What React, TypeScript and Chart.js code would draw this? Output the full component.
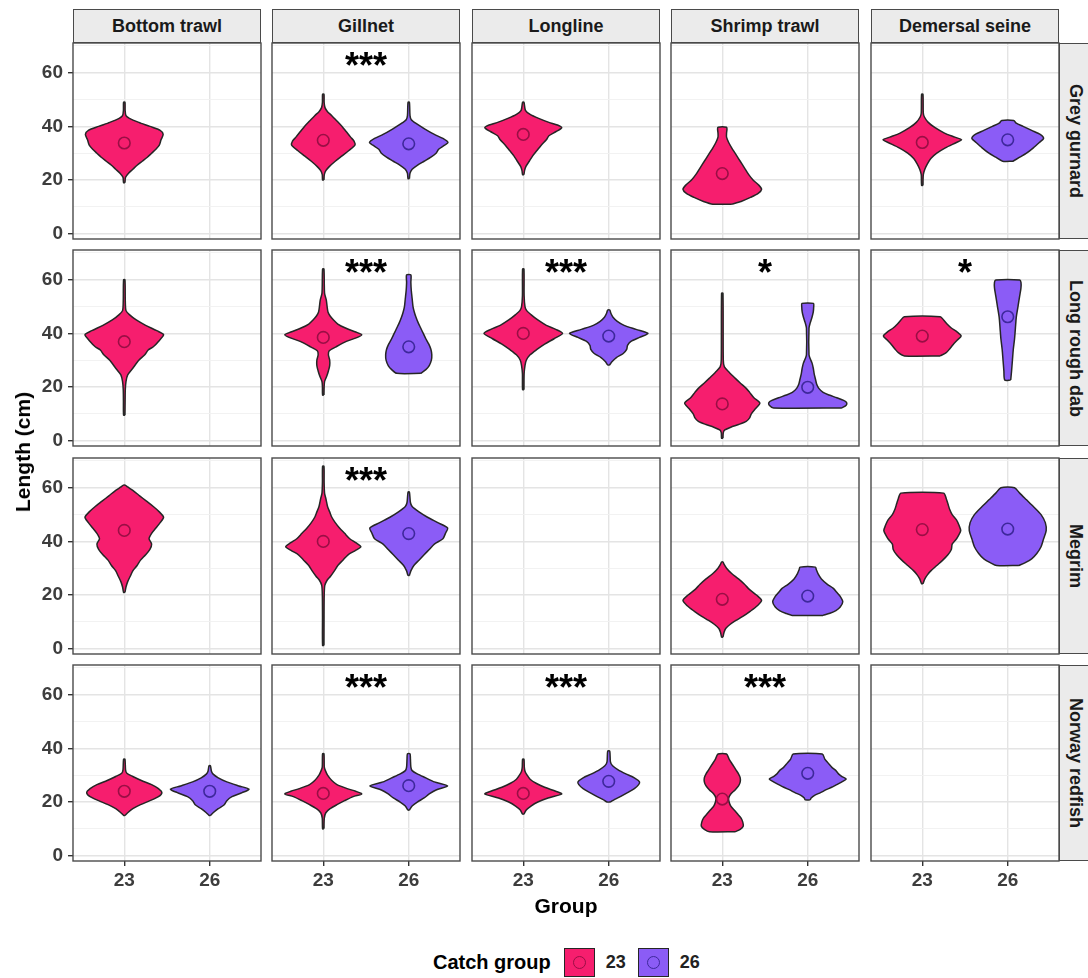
import React, { useEffect, useRef } from 'react';
import { Chart, registerables } from 'chart.js';

Chart.register(...registerables);

const FONT = '"Liberation Sans", Arial, Helvetica, sans-serif';
Chart.defaults.font.family = FONT;

// Facets, groups and axis ticks
const gears = ['Bottom trawl', 'Gillnet', 'Longline', 'Shrimp trawl', 'Demersal seine'];
const species = ['Grey gurnard', 'Long rough dab', 'Megrim', 'Norway redfish'];
const catchGroups = ['23', '26'];
const groupPositions = [1, 2];
const lengthTicks = [0, 20, 40, 60];
const lengthMinorTicks = [10, 30, 50, 70];

// Violin outlines: [length (cm), half width in group units], bottom to top
const ggBottomTrawl23 = [[19, 0.008], [21, 0.015], [22.5, 0.05], [24, 0.1], [25.5, 0.15], [27, 0.21], [28.5, 0.27], [30, 0.32], [31.5, 0.37], [33, 0.41], [35, 0.43], [37, 0.455], [38.5, 0.42], [40, 0.3], [41.5, 0.17], [43, 0.06], [44, 0.02], [46, 0.01], [49, 0.008]];
const ggGillnet23 = [[20, 0.008], [22, 0.012], [23.5, 0.03], [25, 0.07], [27, 0.14], [29, 0.22], [31, 0.3], [33, 0.37], [34.5, 0.36], [36, 0.32], [38, 0.27], [40, 0.22], [42, 0.16], [44, 0.1], [45.5, 0.05], [47, 0.02], [49, 0.01], [52, 0.008]];
const ggGillnet26 = [[20.5, 0.008], [22.5, 0.015], [24, 0.04], [25.5, 0.1], [27, 0.18], [28.5, 0.26], [30, 0.32], [31.5, 0.35], [33, 0.42], [34, 0.46], [35.5, 0.4], [37, 0.3], [39, 0.19], [41, 0.09], [42.5, 0.03], [44, 0.015], [49, 0.008]];
const ggLongline23 = [[22, 0.008], [23.5, 0.015], [25, 0.03], [27, 0.07], [29, 0.11], [31, 0.16], [33, 0.21], [35, 0.27], [36.5, 0.3], [38, 0.38], [39.5, 0.45], [40.5, 0.4], [41.5, 0.3], [43, 0.18], [44.5, 0.08], [46, 0.025], [49, 0.008]];
const ggShrimpTrawl23 = [[11, 0.11], [12, 0.22], [13.5, 0.33], [15, 0.42], [16.5, 0.46], [18, 0.43], [20, 0.36], [22, 0.31], [24, 0.27], [26, 0.23], [28, 0.19], [30, 0.15], [32, 0.11], [34, 0.075], [36, 0.05], [37.5, 0.05], [39, 0.055], [39.7, 0.05]];
const ggDemersalSeine23 = [[18, 0.008], [22, 0.012], [24, 0.03], [26, 0.06], [28, 0.1], [30, 0.17], [32, 0.27], [34, 0.4], [35, 0.46], [36, 0.38], [37.5, 0.26], [39.5, 0.15], [41.5, 0.07], [43.5, 0.025], [45, 0.012], [52, 0.008]];
const ggDemersalSeine26 = [[27, 0.06], [28.5, 0.14], [30, 0.22], [32, 0.3], [34, 0.37], [35.5, 0.42], [37, 0.38], [38.5, 0.28], [40, 0.18], [41.2, 0.1], [42.2, 0.07]];

const lrdBottomTrawl23 = [[9.5, 0.008], [15, 0.01], [19, 0.012], [22, 0.02], [24.5, 0.04], [27, 0.1], [30, 0.17], [32, 0.24], [33.8, 0.28], [35, 0.34], [37, 0.4], [39.5, 0.46], [41, 0.38], [43, 0.25], [45, 0.14], [47, 0.06], [48.5, 0.02], [52, 0.012], [60, 0.008]];
const lrdGillnet23 = [[17, 0.008], [20, 0.01], [22, 0.015], [24, 0.04], [26, 0.06], [28, 0.075], [30, 0.075], [32, 0.06], [33.5, 0.07], [35, 0.15], [37, 0.27], [38.5, 0.4], [39.5, 0.45], [40.5, 0.38], [42, 0.26], [43.5, 0.17], [45, 0.12], [46.5, 0.08], [48, 0.055], [50, 0.045], [52.5, 0.035], [55, 0.015], [64, 0.008]];
const lrdGillnet26 = [[25.1, 0.14], [26.5, 0.2], [28, 0.24], [30, 0.265], [32, 0.27], [34, 0.26], [36, 0.235], [38, 0.2], [40, 0.17], [42, 0.14], [44, 0.11], [46, 0.085], [48, 0.065], [50, 0.05], [53, 0.04], [56, 0.03], [59, 0.025], [61.8, 0.025]];
const lrdLongline23 = [[19, 0.008], [25, 0.01], [28, 0.02], [30, 0.035], [32, 0.08], [34, 0.16], [36, 0.25], [38, 0.36], [40, 0.46], [41.5, 0.38], [43, 0.27], [45, 0.17], [47, 0.09], [48.5, 0.04], [50, 0.02], [54, 0.01], [64, 0.008]];
const lrdLongline26 = [[28.2, 0.01], [29.5, 0.04], [31, 0.09], [32.5, 0.17], [34, 0.21], [35.5, 0.22], [37, 0.26], [38.5, 0.36], [40, 0.46], [41.5, 0.32], [43, 0.18], [44.5, 0.1], [46, 0.05], [47.5, 0.025], [48.7, 0.012]];
const lrdShrimpTrawl23 = [[0.9, 0.008], [3, 0.012], [4, 0.03], [5, 0.1], [6, 0.19], [7.2, 0.28], [8.5, 0.32], [10, 0.34], [12, 0.39], [14, 0.44], [16, 0.37], [18, 0.32], [19.5, 0.28], [21.5, 0.21], [23.3, 0.15], [25.5, 0.08], [27.5, 0.025], [30, 0.012], [55, 0.008]];
const lrdShrimpTrawl26 = [[12.2, 0.4], [13.2, 0.45], [14.2, 0.455], [15, 0.42], [16, 0.34], [17, 0.25], [18, 0.18], [19.5, 0.13], [21, 0.105], [23, 0.09], [25, 0.075], [27, 0.065], [29, 0.05], [30.5, 0.03], [32, 0.015], [42, 0.015], [44, 0.03], [46, 0.05], [48, 0.065], [50, 0.07], [51.2, 0.068]];
const lrdDemersalSeine23 = [[31.6, 0.21], [32.8, 0.28], [34.2, 0.32], [35.8, 0.36], [37.5, 0.41], [39, 0.455], [40.5, 0.41], [42, 0.34], [43.5, 0.29], [45, 0.25], [46.2, 0.21]];
const lrdDemersalSeine26 = [[22.6, 0.035], [26, 0.045], [30, 0.055], [34, 0.065], [38, 0.08], [42, 0.09], [46, 0.1], [50, 0.12], [54, 0.14], [57, 0.155], [59, 0.155], [59.9, 0.14]];

const megBottomTrawl23 = [[21, 0.008], [23, 0.02], [25, 0.04], [27, 0.07], [29, 0.1], [31, 0.15], [33, 0.19], [35, 0.25], [37, 0.3], [39, 0.32], [41, 0.29], [43, 0.32], [45, 0.37], [47, 0.42], [49, 0.46], [51, 0.41], [53, 0.34], [55, 0.26], [57, 0.18], [59, 0.1], [60.3, 0.04], [61, 0.01]];
const megGillnet23 = [[1.2, 0.008], [12, 0.009], [20, 0.011], [23.6, 0.018], [25.5, 0.045], [27, 0.085], [29, 0.13], [31, 0.17], [33, 0.23], [35, 0.29], [36.5, 0.37], [38, 0.44], [39.5, 0.38], [41, 0.31], [43, 0.25], [45, 0.19], [47, 0.14], [49, 0.1], [51, 0.075], [53, 0.05], [56, 0.03], [58, 0.015], [62, 0.01], [68, 0.008]];
const megGillnet26 = [[27.3, 0.008], [29, 0.025], [31, 0.06], [33, 0.12], [35, 0.18], [37, 0.24], [39, 0.3], [41, 0.4], [43, 0.43], [45, 0.455], [47, 0.34], [49, 0.22], [51, 0.12], [53, 0.04], [54.5, 0.02], [58.4, 0.008]];
const megShrimpTrawl23 = [[4.3, 0.008], [6, 0.02], [7.5, 0.04], [9, 0.09], [10.5, 0.16], [12, 0.24], [14, 0.33], [16, 0.41], [18, 0.46], [20, 0.4], [22, 0.32], [24, 0.26], [26, 0.19], [28, 0.11], [30, 0.05], [31.5, 0.02], [32.3, 0.008]];
const megShrimpTrawl26 = [[12.4, 0.18], [13.2, 0.26], [14.2, 0.33], [15.5, 0.38], [17.5, 0.41], [19.5, 0.38], [21, 0.34], [22.5, 0.3], [24, 0.23], [26, 0.16], [28, 0.12], [29.5, 0.1], [30.4, 0.09]];
const megDemersalSeine23 = [[24.2, 0.008], [26, 0.03], [27.5, 0.06], [29, 0.1], [31, 0.17], [33, 0.24], [35, 0.3], [37, 0.34], [39, 0.35], [40.5, 0.39], [42, 0.42], [44, 0.45], [46, 0.43], [48, 0.4], [50, 0.35], [52, 0.32], [54, 0.3], [56, 0.28], [58, 0.25]];
const megDemersalSeine26 = [[31, 0.13], [32, 0.2], [33.5, 0.28], [35.5, 0.34], [38, 0.39], [41, 0.42], [44, 0.45], [47, 0.44], [50, 0.39], [53, 0.3], [55.5, 0.22], [58, 0.14], [60, 0.08]];

const nrBottomTrawl23 = [[15, 0.008], [16, 0.04], [17.5, 0.1], [19, 0.19], [20.5, 0.3], [22, 0.4], [23.5, 0.44], [25, 0.4], [26.5, 0.32], [28, 0.2], [29.5, 0.1], [30.7, 0.03], [32, 0.015], [36, 0.008]];
const nrBottomTrawl26 = [[15, 0.008], [16, 0.04], [17.5, 0.1], [19, 0.17], [20.5, 0.2], [22, 0.26], [23.5, 0.38], [24.8, 0.46], [26, 0.34], [27.5, 0.2], [29, 0.1], [30.4, 0.04], [31.5, 0.02], [33.5, 0.008]];
const nrGillnet23 = [[10, 0.008], [14, 0.012], [16, 0.03], [17.5, 0.08], [19, 0.16], [20.5, 0.25], [22, 0.35], [23, 0.45], [24, 0.38], [25, 0.28], [26.5, 0.16], [28, 0.1], [30, 0.05], [31.7, 0.025], [33, 0.012], [38, 0.008]];
const nrGillnet26 = [[17, 0.008], [18.5, 0.04], [20, 0.1], [21.5, 0.18], [23, 0.24], [24.5, 0.32], [26, 0.455], [27.5, 0.3], [29, 0.2], [30.5, 0.1], [31.7, 0.04], [33, 0.025], [36, 0.02], [38, 0.015]];
const nrLongline23 = [[15.5, 0.008], [17, 0.035], [18.5, 0.09], [20, 0.17], [21.5, 0.29], [23, 0.45], [24, 0.38], [25.5, 0.25], [27, 0.15], [28.5, 0.08], [30, 0.045], [31.5, 0.02], [33, 0.012], [36, 0.008]];
const nrLongline26 = [[20, 0.02], [21, 0.07], [22, 0.135], [23.5, 0.22], [25, 0.3], [26.5, 0.35], [27.5, 0.36], [29, 0.3], [30.5, 0.2], [32, 0.11], [33.5, 0.045], [35, 0.02], [39, 0.012]];
const nrShrimpTrawl23 = [[8.9, 0.15], [9.8, 0.21], [11, 0.245], [12.5, 0.24], [14, 0.22], [15.5, 0.18], [17, 0.14], [18.5, 0.1], [20, 0.08], [21.5, 0.075], [23, 0.1], [24.5, 0.15], [26, 0.19], [27.5, 0.21], [29, 0.21], [30.5, 0.19], [32, 0.16], [34, 0.12], [36, 0.08], [37.9, 0.05]];
const nrShrimpTrawl26 = [[20.8, 0.03], [21.5, 0.04], [22.5, 0.08], [23.5, 0.15], [24.5, 0.21], [25.5, 0.28], [26.5, 0.34], [27.5, 0.4], [28.6, 0.45], [29.5, 0.4], [30.5, 0.36], [31.7, 0.33], [33, 0.28], [34.5, 0.24], [36, 0.2], [37.9, 0.17]];

// Mean length per gear, [group 23, group 26]
const ggMeans = [[33.8, null], [34.8, 33.5], [37, null], [22.4, null], [34, 35]];
const lrdMeans = [[36.9, null], [38.5, 35], [40, 39], [13.7, 19.9], [39, 46.2]];
const megMeans = [[44.1, null], [40, 42.9], [null, null], [18.4, 19.6], [44.4, 44.6]];
const nrMeans = [[24, 24], [23.2, 26.1], [23.2, 27.7], [21.1, 30.7], [null, null]];

// Significance of the 23 vs 26 difference per gear
const ggSignif = ['', '***', '', '', ''];
const lrdSignif = ['', '***', '***', '*', '*'];
const megSignif = ['', '***', '', '', ''];
const nrSignif = ['', '***', '***', '***', ''];
const signifLength = 65.3;

const violinTable = [
  [[ggBottomTrawl23, null], [ggGillnet23, ggGillnet26], [ggLongline23, null], [ggShrimpTrawl23, null], [ggDemersalSeine23, ggDemersalSeine26]],
  [[lrdBottomTrawl23, null], [lrdGillnet23, lrdGillnet26], [lrdLongline23, lrdLongline26], [lrdShrimpTrawl23, lrdShrimpTrawl26], [lrdDemersalSeine23, lrdDemersalSeine26]],
  [[megBottomTrawl23, null], [megGillnet23, megGillnet26], [null, null], [megShrimpTrawl23, megShrimpTrawl26], [megDemersalSeine23, megDemersalSeine26]],
  [[nrBottomTrawl23, nrBottomTrawl26], [nrGillnet23, nrGillnet26], [nrLongline23, nrLongline26], [nrShrimpTrawl23, nrShrimpTrawl26], [null, null]],
];
const meanTable = [ggMeans, lrdMeans, megMeans, nrMeans];
const signifTable = [ggSignif, lrdSignif, megSignif, nrSignif];

// Styling
const FILL = ['#F61E6E', '#8B5CF6'];
const MEAN_EDGE = ['#9A0E45', '#3E289C'];
const OUTLINE = '#262626';
const FRAME = '#4a4a4a';
const GRID_MAJOR = '#E4E4E4';
const GRID_MINOR = '#F0F0F0';
const TICK_TEXT = '#3d3d3d';

// Facet layout (page pixels)
const PANEL_W = 188;
const PANEL_H = 196;
const colLeft = (c: number) => Math.round(72.7 + 199.5 * c);
const rowTop = (r: number) => Math.round(42.7 + 207.4 * r);
const PAD = 3;
const AXIS_W = 60;
const AXIS_H = 40;
const Y_MIN = -2;
const Y_MAX = 71.1;
const X_MIN = 0.4;
const X_MAX = 2.6;

function Panel({ row, col }: { row: number; col: number }) {
  const ref = useRef<HTMLCanvasElement | null>(null);
  const isLeft = col === 0;
  const isBottom = row === species.length - 1;
  const width = PANEL_W + 2 * PAD + (isLeft ? AXIS_W : 0);
  const height = PANEL_H + 2 * PAD + (isBottom ? AXIS_H : 0);

  useEffect(() => {
    if (!ref.current) return;
    const datasets: any[] = [];
    violinTable[row][col].forEach((profile, g) => {
      if (!profile) return;
      const pos = groupPositions[g];
      const right = profile.map(([len, w]) => ({ x: pos + w, y: len }));
      const left = profile.slice().reverse().map(([len, w]) => ({ x: pos - w, y: len }));
      datasets.push({
        type: 'line',
        label: catchGroups[g],
        data: [...right, ...left, right[0]],
        borderColor: OUTLINE,
        borderWidth: 1.5,
        borderJoinStyle: 'round',
        backgroundColor: FILL[g],
        fill: 'shape',
        pointRadius: 0,
        tension: 0.25,
        order: 2,
      });
      const mean = meanTable[row][col][g];
      if (mean != null) {
        datasets.push({
          type: 'line',
          label: catchGroups[g] + ' mean',
          data: [{ x: pos, y: mean }],
          showLine: false,
          pointRadius: 5.8,
          pointBorderWidth: 1.6,
          pointBorderColor: MEAN_EDGE[g],
          pointBackgroundColor: 'rgba(0,0,0,0)',
          order: 1,
        });
      }
    });

    const signif = signifTable[row][col];
    const decor = {
      id: 'panelDecor',
      afterDatasetsDraw(chart: any) {
        const { ctx, chartArea, scales } = chart;
        ctx.save();
        if (signif) {
          ctx.font = `bold 36px ${FONT}`;
          ctx.fillStyle = '#000';
          ctx.textAlign = 'center';
          ctx.textBaseline = 'alphabetic';
          const m = ctx.measureText(signif);
          const cy = scales.y.getPixelForValue(signifLength);
          const base = cy + (m.actualBoundingBoxAscent - m.actualBoundingBoxDescent) / 2;
          ctx.fillText(signif, scales.x.getPixelForValue(1.5), base);
        }
        ctx.strokeStyle = FRAME;
        ctx.lineWidth = 1.4;
        ctx.strokeRect(chartArea.left, chartArea.top, chartArea.right - chartArea.left, chartArea.bottom - chartArea.top);
        ctx.restore();
      },
    };

    const allTicks = [...lengthTicks, ...lengthMinorTicks].sort((a, b) => a - b);
    const chart = new Chart(ref.current, {
      type: 'line',
      data: { datasets },
      options: {
        animation: false,
        responsive: false,
        devicePixelRatio: 1,
        events: [],
        layout: { autoPadding: false, padding: { left: PAD, right: PAD, top: PAD, bottom: PAD } },
        plugins: { legend: { display: false }, tooltip: { enabled: false }, title: { display: false } },
        scales: {
          x: {
            type: 'linear',
            min: X_MIN,
            max: X_MAX,
            afterBuildTicks: (s: any) => {
              s.ticks = groupPositions.map((v) => ({ value: v }));
            },
            afterFit: (s: any) => {
              s.height = isBottom ? AXIS_H : 0;
              s.paddingLeft = 0;
              s.paddingRight = 0;
            },
            ticks: {
              display: isBottom,
              autoSkip: false,
              maxRotation: 0,
              padding: 3,
              color: TICK_TEXT,
              font: { size: 19, weight: 'bold' },
              callback: (v: any) => {
                const i = groupPositions.indexOf(Number(v));
                return i >= 0 ? catchGroups[i] : '';
              },
            },
            grid: {
              color: GRID_MAJOR,
              lineWidth: 1.4,
              drawTicks: isBottom,
              tickLength: 5,
              tickColor: '#333',
              tickWidth: 1.4,
            },
            border: { display: false },
          },
          y: {
            type: 'linear',
            min: Y_MIN,
            max: Y_MAX,
            afterBuildTicks: (s: any) => {
              s.ticks = allTicks.map((v) => ({ value: v }));
            },
            afterFit: (s: any) => {
              s.width = isLeft ? AXIS_W : 0;
              s.paddingTop = 0;
              s.paddingBottom = 0;
            },
            ticks: {
              display: isLeft,
              autoSkip: false,
              padding: 5,
              color: TICK_TEXT,
              font: { size: 19, weight: 'bold' },
              callback: (v: any) => (lengthTicks.includes(Number(v)) ? String(v) : ''),
            },
            grid: {
              color: (c: any) => (lengthTicks.includes(c.tick?.value) ? GRID_MAJOR : GRID_MINOR),
              lineWidth: (c: any) => (lengthTicks.includes(c.tick?.value) ? 1.4 : 0.9),
              drawTicks: isLeft,
              tickLength: 5,
              tickColor: (c: any) => (lengthTicks.includes(c.tick?.value) ? '#333' : 'rgba(0,0,0,0)'),
              tickWidth: 1.4,
            },
            border: { display: false },
          },
        },
      } as any,
      plugins: [decor],
    });
    return () => chart.destroy();
  }, [row, col]);

  const left = colLeft(col) - PAD - (isLeft ? AXIS_W : 0);
  const top = rowTop(row) - PAD;
  return (
    <canvas
      ref={ref}
      width={width}
      height={height}
      style={{ position: 'absolute', left, top, width, height }}
    />
  );
}

const stripStyle: React.CSSProperties = {
  position: 'absolute',
  boxSizing: 'border-box',
  background: '#EBEBEB',
  border: `1.4px solid ${FRAME}`,
  display: 'flex',
  alignItems: 'center',
  justifyContent: 'center',
  fontWeight: 'bold',
  fontSize: 18,
  color: '#1a1a1a',
  whiteSpace: 'nowrap',
};

function LegendKey({ g }: { g: number }) {
  return (
    <div
      style={{
        width: 31,
        height: 29,
        boxSizing: 'border-box',
        background: FILL[g],
        border: `1.4px solid ${OUTLINE}`,
        display: 'flex',
        alignItems: 'center',
        justifyContent: 'center',
      }}
    >
      <div
        style={{
          width: 11,
          height: 11,
          borderRadius: '50%',
          border: `1.6px solid ${MEAN_EDGE[g]}`,
        }}
      />
    </div>
  );
}

export default function App() {
  return (
    <div
      style={{
        position: 'fixed',
        left: 0,
        top: 0,
        width: 1088,
        height: 978,
        overflow: 'hidden',
        background: '#fff',
        fontFamily: FONT,
      }}
    >
      {gears.map((g, c) => (
        <div key={g} style={{ ...stripStyle, left: colLeft(c), top: 9, width: PANEL_W, height: 34 }}>
          {g}
        </div>
      ))}
      {species.map((s, r) => (
        <div
          key={s}
          style={{
            ...stripStyle,
            left: colLeft(4) + PANEL_W,
            top: rowTop(r),
            width: 33,
            height: PANEL_H,
            writingMode: 'vertical-rl',
          }}
        >
          {s}
        </div>
      ))}
      {species.map((s, r) =>
        gears.map((g, c) => <Panel key={`${s}-${g}`} row={r} col={c} />)
      )}
      <div
        style={{
          position: 'absolute',
          left: 23,
          top: 452,
          transform: 'translate(-50%, -50%) rotate(-90deg)',
          fontWeight: 'bold',
          fontSize: 21,
          color: '#000',
          whiteSpace: 'nowrap',
        }}
      >
        Length (cm)
      </div>
      <div
        style={{
          position: 'absolute',
          left: 566,
          top: 906,
          transform: 'translate(-50%, -50%)',
          fontWeight: 'bold',
          fontSize: 21,
          color: '#000',
          whiteSpace: 'nowrap',
        }}
      >
        Group
      </div>
      <div
        style={{
          position: 'absolute',
          left: 433,
          top: 948,
          height: 29,
          display: 'flex',
          alignItems: 'center',
          fontWeight: 'bold',
          whiteSpace: 'nowrap',
        }}
      >
        <span style={{ fontSize: 20, color: '#000', marginRight: 13 }}>Catch group</span>
        <LegendKey g={0} />
        <span style={{ fontSize: 18, color: '#222', margin: '0 12px 0 11px' }}>{catchGroups[0]}</span>
        <LegendKey g={1} />
        <span style={{ fontSize: 18, color: '#222', marginLeft: 11 }}>{catchGroups[1]}</span>
      </div>
    </div>
  );
}
